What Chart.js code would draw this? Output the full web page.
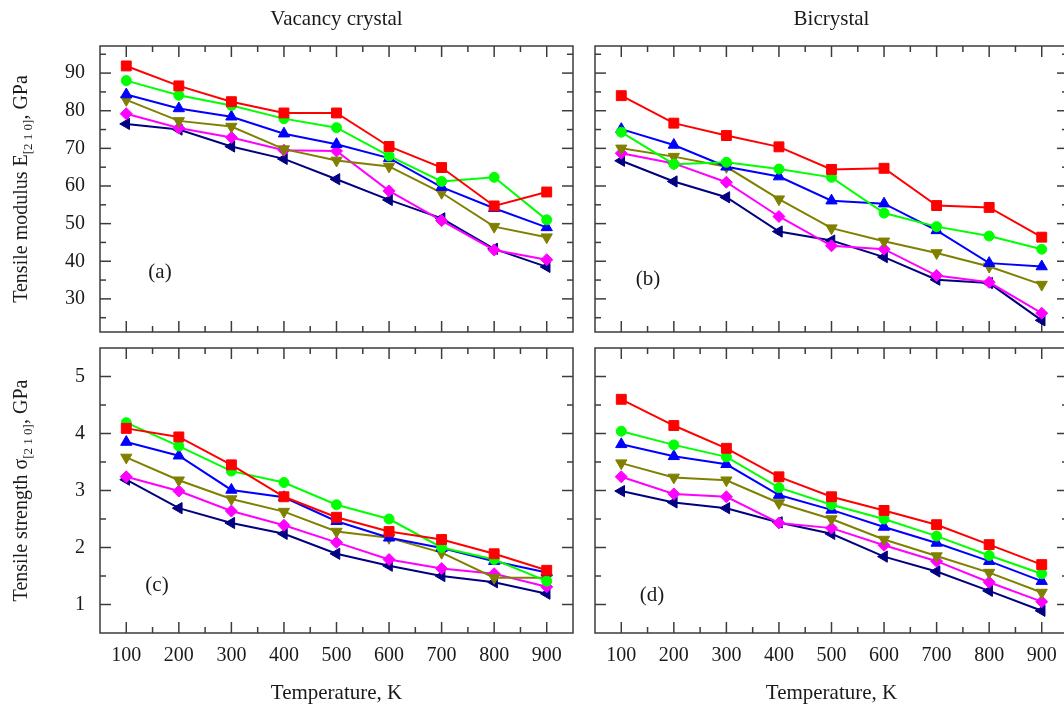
<!DOCTYPE html>
<html>
<head>
<meta charset="utf-8">
<script src="https://cdn.jsdelivr.net/npm/chart.js@4.4.1/dist/chart.umd.min.js"></script>
<style>
    html, body { margin: 0; padding: 0; background: #fff; overflow: hidden; }
    #wrap      { position: relative; width: 1064px; height: 709px; overflow: hidden; }
    #wrap canvas { position: absolute; left: 0; top: 0; }
</style>
</head>
<body>
<div id="wrap">
    <canvas id="panelA" width="1100" height="709"></canvas>
    <canvas id="panelB" width="1100" height="709"></canvas>
    <canvas id="panelC" width="1100" height="709"></canvas>
    <canvas id="panelD" width="1100" height="709"></canvas>
</div>
<script>
// temperatures, K
const temps     = [100, 200, 300, 400, 500, 600, 700, 800, 900];
const xMajor    = [100, 200, 300, 400, 500, 600, 700, 800, 900];
const xMinor    = [150, 250, 350, 450, 550, 650, 750, 850];
const modMajor  = [30, 40, 50, 60, 70, 80, 90];
const modMinor  = [25, 35, 45, 55, 65, 75, 85, 95];
const strMajor  = [1, 2, 3, 4, 5];
const strMinor  = [1.5, 2.5, 3.5, 4.5];

// (a) vacancy crystal, tensile modulus, GPa
const vacModRed     = [91.9, 86.6, 82.4, 79.4, 79.4, 70.5, 64.9, 54.7, 58.4];
const vacModGreen   = [88.0, 84.1, 81.4, 77.9, 75.5, 68.0, 61.2, 62.3, 51.0];
const vacModBlue    = [84.3, 80.6, 78.4, 73.9, 71.1, 67.4, 59.7, 54.1, 49.0];
const vacModOlive   = [82.9, 77.3, 75.8, 69.8, 66.8, 65.2, 58.2, 49.2, 46.4];
const vacModMagenta = [79.2, 75.4, 72.9, 69.5, 69.3, 58.7, 50.8, 43.0, 40.4];
const vacModNavy    = [76.5, 75.0, 70.5, 67.2, 61.8, 56.3, 51.4, 43.3, 38.5];

// (b) bicrystal, tensile modulus, GPa
const biModRed     = [84.0, 76.7, 73.4, 70.4, 64.4, 64.7, 54.8, 54.3, 46.4];
const biModGreen   = [74.3, 65.8, 66.3, 64.5, 62.3, 52.8, 49.2, 46.7, 43.2];
const biModBlue    = [75.1, 70.9, 65.1, 62.5, 56.1, 55.3, 48.2, 39.5, 38.6];
const biModOlive   = [70.0, 67.8, 65.1, 56.5, 48.8, 45.3, 42.2, 38.6, 33.8];
const biModMagenta = [68.7, 66.0, 61.0, 51.9, 44.1, 43.2, 36.2, 34.4, 26.2];
const biModNavy    = [66.7, 61.2, 57.0, 47.9, 45.5, 41.1, 35.1, 34.2, 24.3];

// (c) vacancy crystal, tensile strength, GPa
const vacStrRed     = [4.09, 3.94, 3.45, 2.89, 2.53, 2.28, 2.14, 1.89, 1.60];
const vacStrGreen   = [4.19, 3.78, 3.34, 3.14, 2.75, 2.50, 2.00, 1.79, 1.41];
const vacStrBlue    = [3.85, 3.61, 3.01, 2.88, 2.46, 2.17, 1.99, 1.76, 1.56];
const vacStrOlive   = [3.58, 3.18, 2.85, 2.63, 2.28, 2.17, 1.91, 1.47, 1.47];
const vacStrMagenta = [3.24, 2.99, 2.64, 2.39, 2.09, 1.79, 1.63, 1.54, 1.31];
const vacStrNavy    = [3.19, 2.69, 2.43, 2.24, 1.89, 1.68, 1.50, 1.39, 1.19];

// (d) bicrystal, tensile strength, GPa
const biStrRed     = [4.60, 4.14, 3.74, 3.24, 2.89, 2.65, 2.40, 2.05, 1.70];
const biStrGreen   = [4.04, 3.80, 3.59, 3.05, 2.75, 2.50, 2.20, 1.86, 1.54];
const biStrBlue    = [3.81, 3.60, 3.46, 2.92, 2.66, 2.36, 2.08, 1.76, 1.41];
const biStrOlive   = [3.48, 3.23, 3.18, 2.78, 2.50, 2.14, 1.85, 1.56, 1.21];
const biStrMagenta = [3.24, 2.94, 2.89, 2.43, 2.34, 2.04, 1.76, 1.39, 1.05];
const biStrNavy    = [2.99, 2.79, 2.69, 2.44, 2.24, 1.84, 1.58, 1.24, 0.89];

const SERIES = [
    { color: "#FF0000", style: "rect",     rotation: 0,   radius: 7   },
    { color: "#00FF00", style: "circle",   rotation: 0,   radius: 5   },
    { color: "#0000FF", style: "triangle", rotation: 0,   radius: 6.5 },
    { color: "#808000", style: "triangle", rotation: 180, radius: 6.5 },
    { color: "#FF00FF", style: "rectRot",  rotation: 0,   radius: 6   },
    { color: "#000080", style: "triangle", rotation: 270, radius: 6.5 }
];

const FONT   = "'Liberation Serif', 'Times New Roman', serif";
const INK    = "#1a1a1a";
const CANVAS = { w: 1100, h: 709 };

Chart.defaults.font.family = FONT;
Chart.defaults.color       = INK;

// inward ticks on all four sides, the frame, panel letter and y title
const framePlugin = {
    id: "frame",
    beforeDatasetsDraw(chart, args, o) {
        const { ctx, chartArea: { left, top, right, bottom }, scales: { x, y } } = chart;
        ctx.save();
        ctx.strokeStyle = "#3c3c3c";
        ctx.lineWidth   = 1.5;
        ctx.strokeRect(left, top, right - left, bottom - top);

        const seg = (x1, y1, x2, y2) => { ctx.beginPath(); ctx.moveTo(x1, y1); ctx.lineTo(x2, y2); ctx.stroke(); };
        const xt  = (list, len) => list.forEach(v => {
            const p = x.getPixelForValue(v);
            seg(p, bottom, p, bottom - len);
            seg(p, top, p, top + len);
        });
        const yt  = (list, len) => list.forEach(v => {
            const p = y.getPixelForValue(v);
            seg(left, p, left + len, p);
            seg(right, p, right - len, p);
        });
        xt(o.xMajor, 11); xt(o.xMinor, 6);
        yt(o.yMajor, 11); yt(o.yMinor, 6);

        ctx.fillStyle    = INK;
        ctx.font         = `21px ${FONT}`;
        ctx.textAlign    = "center";
        ctx.textBaseline = "middle";
        ctx.fillText(o.letter, left + o.letterDx, bottom - o.letterDy);
        ctx.restore();
    },
    afterDraw(chart, args, o) {
        if (!o.yTitle) return;
        const { ctx, chartArea: { top, bottom } } = chart;
        const { main, sub, tail } = o.yTitle;
        ctx.save();
        ctx.translate(27, (top + bottom) / 2);
        ctx.rotate(-Math.PI / 2);
        ctx.fillStyle    = INK;
        ctx.textBaseline = "alphabetic";
        ctx.textAlign    = "left";
        ctx.font = `20px ${FONT}`;
        const w1 = ctx.measureText(main).width;
        const w3 = ctx.measureText(tail).width;
        ctx.font = `13px ${FONT}`;
        const w2 = ctx.measureText(sub).width;
        let xx = -(w1 + w2 + w3) / 2;
        ctx.font = `20px ${FONT}`;
        ctx.fillText(main, xx, 0);
        ctx.font = `13px ${FONT}`;
        ctx.fillText(sub, xx + w1, 5);
        ctx.font = `20px ${FONT}`;
        ctx.fillText(tail, xx + w1 + w2, 0);
        ctx.restore();
    }
};

function _makePanel(id, area, rows, yCfg, p) {
    const datasets = rows.map((vals, i) => ({
        label          : `series ${i + 1}`,
        data           : temps.map((t, j) => ({ x: t, y: vals[j] })),
        borderColor    : SERIES[i].color,
        backgroundColor: SERIES[i].color,
        borderWidth    : 2,
        pointStyle     : SERIES[i].style,
        pointRotation  : SERIES[i].rotation,
        pointRadius    : SERIES[i].radius,
        pointBorderWidth: 1,
        tension        : 0,
        clip           : false
    }));

    return new Chart(document.getElementById(id), {
        type: "line",
        data: { datasets },
        plugins: [framePlugin],
        options: {
            responsive      : false,
            animation       : false,
            devicePixelRatio: 1,
            layout: {
                padding: {
                    left  : 0,
                    right : CANVAS.w - area.right,
                    top   : p.title ? 0 : area.top,
                    bottom: 0
                }
            },
            plugins: {
                legend : { display: false },
                tooltip: { enabled: false },
                title  : {
                    display : !!p.title,
                    text    : p.title || "",
                    fullSize: false,
                    color   : INK,
                    font    : { size: 21, weight: "normal", lineHeight: 1.2 },
                    padding : { top: 7, bottom: area.top - 7 - 25.2 }
                },
                frame: {
                    xMajor, xMinor,
                    yMajor  : yCfg.major,
                    yMinor  : yCfg.minor,
                    letter  : p.letter,
                    letterDx: p.letterDx,
                    letterDy: p.letterDy,
                    yTitle  : p.yTitle
                }
            },
            scales: {
                x: {
                    type  : "linear",
                    min   : 50,
                    max   : 950,
                    grid  : { display: false },
                    border: { display: false },
                    ticks : { display: p.xLabels, font: { size: 20 }, padding: 3, color: INK },
                    title : {
                        display: p.xLabels,
                        text   : "Temperature, K",
                        font   : { size: 21 },
                        color  : INK,
                        padding: { top: 0, bottom: 3 }
                    },
                    afterBuildTicks: s => { s.ticks = xMajor.map(v => ({ value: v })); },
                    afterFit       : s => { s.height = CANVAS.h - area.bottom; }
                },
                y: {
                    type  : "linear",
                    min   : yCfg.min,
                    max   : yCfg.max,
                    grid  : { display: false },
                    border: { display: false },
                    ticks : { display: p.yLabels, font: { size: 20 }, padding: 7, color: INK },
                    afterBuildTicks: s => { s.ticks = yCfg.major.map(v => ({ value: v })); },
                    afterFit       : s => { s.width = area.left; }
                }
            }
        }
    });
}

const modY = { min: 21.2, max: 97.2, major: modMajor, minor: modMinor };
const strY = { min: 0.5,  max: 5.5,  major: strMajor, minor: strMinor };

_makePanel("panelA", { left: 100, top: 46, right: 573, bottom: 332 },
    [vacModRed, vacModGreen, vacModBlue, vacModOlive, vacModMagenta, vacModNavy], modY,
    { title: "Vacancy crystal", letter: "(a)", letterDx: 60, letterDy: 60, xLabels: false, yLabels: true,
      yTitle: { main: "Tensile modulus E", sub: "[2 1 0]", tail: ", GPa" } });

_makePanel("panelB", { left: 595, top: 46, right: 1068, bottom: 332 },
    [biModRed, biModGreen, biModBlue, biModOlive, biModMagenta, biModNavy], modY,
    { title: "Bicrystal", letter: "(b)", letterDx: 53, letterDy: 53, xLabels: false, yLabels: false });

_makePanel("panelC", { left: 100, top: 348, right: 573, bottom: 633 },
    [vacStrRed, vacStrGreen, vacStrBlue, vacStrOlive, vacStrMagenta, vacStrNavy], strY,
    { letter: "(c)", letterDx: 57, letterDy: 48, xLabels: true, yLabels: true,
      yTitle: { main: "Tensile strength \u03c3", sub: "[2 1 0]", tail: ", GPa" } });

_makePanel("panelD", { left: 595, top: 348, right: 1068, bottom: 633 },
    [biStrRed, biStrGreen, biStrBlue, biStrOlive, biStrMagenta, biStrNavy], strY,
    { letter: "(d)", letterDx: 57, letterDy: 38, xLabels: true, yLabels: false });
</script>
</body>
</html>
